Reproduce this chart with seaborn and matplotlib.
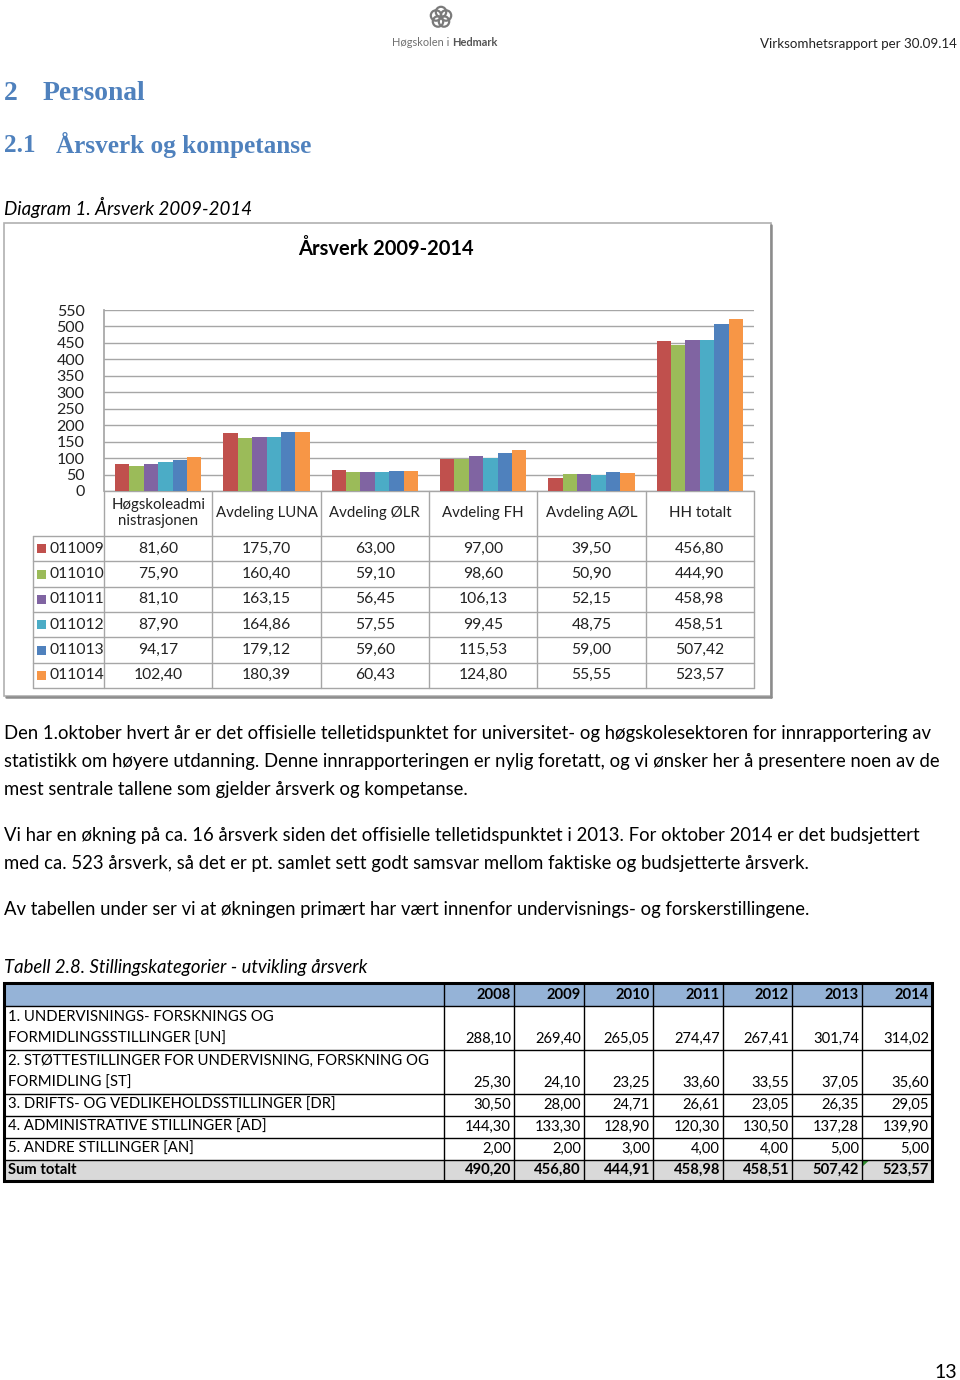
import matplotlib
matplotlib.use("Agg")
import matplotlib.pyplot as plt
import seaborn as sns
import pandas as pd
from matplotlib.patches import Rectangle, Circle, Polygon

# ---------------- data ----------------
categories = ["Høgskoleadmi\nnistrasjonen", "Avdeling LUNA", "Avdeling ØLR",
              "Avdeling FH", "Avdeling AØL", "HH totalt"]
series_names = ["011009", "011010", "011011", "011012", "011013", "011014"]
v_011009 = [81.60, 175.70, 63.00, 97.00, 39.50, 456.80]
v_011010 = [75.90, 160.40, 59.10, 98.60, 50.90, 444.90]
v_011011 = [81.10, 163.15, 56.45, 106.13, 52.15, 458.98]
v_011012 = [87.90, 164.86, 57.55, 99.45, 48.75, 458.51]
v_011013 = [94.17, 179.12, 59.60, 115.53, 59.00, 507.42]
v_011014 = [102.40, 180.39, 60.43, 124.80, 55.55, 523.57]
series_values = [v_011009, v_011010, v_011011, v_011012, v_011013, v_011014]
series_colors = ["#C0504D", "#9BBB59", "#8064A2", "#4BACC6", "#4F81BD", "#F79646"]
y_ticks = list(range(0, 551, 50))

table_years = ["2008", "2009", "2010", "2011", "2012", "2013", "2014"]
table_rows = ["1. UNDERVISNINGS- FORSKNINGS OG\nFORMIDLINGSSTILLINGER [UN]",
              "2. STØTTESTILLINGER FOR UNDERVISNING, FORSKNING OG\nFORMIDLING [ST]",
              "3. DRIFTS- OG VEDLIKEHOLDSSTILLINGER [DR]",
              "4. ADMINISTRATIVE STILLINGER [AD]",
              "5. ANDRE STILLINGER [AN]"]
row_un = [288.10, 269.40, 265.05, 274.47, 267.41, 301.74, 314.02]
row_st = [25.30, 24.10, 23.25, 33.60, 33.55, 37.05, 35.60]
row_dr = [30.50, 28.00, 24.71, 26.61, 23.05, 26.35, 29.05]
row_ad = [144.30, 133.30, 128.90, 120.30, 130.50, 137.28, 139.90]
row_an = [2.00, 2.00, 3.00, 4.00, 4.00, 5.00, 5.00]
sum_label = "Sum totalt"
sum_totalt = [490.20, 456.80, 444.91, 458.98, 458.51, 507.42, 523.57]

para1 = ["Den 1.oktober hvert år er det offisielle telletidspunktet for universitet- og høgskolesektoren for innrapportering av",
         "statistikk om høyere utdanning. Denne innrapporteringen er nylig foretatt, og vi ønsker her å presentere noen av de",
         "mest sentrale tallene som gjelder årsverk og kompetanse."]
para2 = ["Vi har en økning på ca. 16 årsverk siden det offisielle telletidspunktet i 2013. For oktober 2014 er det budsjettert",
         "med ca. 523 årsverk, så det er pt. samlet sett godt samsvar mellom faktiske og budsjetterte årsverk."]
para3 = ["Av tabellen under ser vi at økningen primært har vært innenfor undervisnings- og forskerstillingene."]


def fmt(v):
    return f"{v:.2f}".replace(".", ",")


# ---------------- figure ----------------
sns.set_theme(style="white")
plt.rcParams["font.family"] = ["Lato", "DejaVu Sans"]

W, H = 960, 1380
fig = plt.figure(figsize=(9.6, 13.8), dpi=100)
page = fig.add_axes([0, 0, 1, 1])
page.set_xlim(0, W)
page.set_ylim(H, 0)
page.axis("off")
renderer = fig.canvas.get_renderer()


def measure(s, **kw):
    t = page.text(0, 0, s, fontsize=10, **kw)
    w = t.get_window_extent(renderer).width
    t.remove()
    return w


def size_for(s, width, **kw):
    return 10 * width / measure(s, **kw)


def fit(x, y, s, x_right, ha="left", **kw):
    fs = size_for(s, x_right - x, **kw)
    page.text(x if ha == "left" else x_right, y, s, fontsize=fs, ha=ha, **kw)
    return fs


# header
fit(760, 44, "Virksomhetsrapport per 30.09.14", 957, va="center", color="#222222")
for dx, dy in [(0, -5), (5, -1.5), (3, 4.5), (-3, 4.5), (-5, -1.5)]:
    page.add_patch(Circle((441 + dx, 17 + dy), 5.2, fill=False, ec="#7a7a7a", lw=1.6))
ls = size_for("Høgskolen i Hedmark", 104)
w1 = measure("Høgskolen i ", fontsize=None) if False else None
t1 = page.text(392, 43, "Høgskolen i ", fontsize=ls, ha="left", va="center", color="#707070")
x2 = 392 + t1.get_window_extent(renderer).width
page.text(x2, 43, "Hedmark", fontsize=ls, ha="left", va="center", color="#555555",
          fontweight="bold")

# headings
hcol = "#4F81BD"
serif = ["Liberation Serif", "DejaVu Serif"]
hs = fit(43, 93, "Personal", 146, va="center", color=hcol, fontweight="bold", family=serif)
page.text(4, 93, "2", fontsize=hs, va="center", color=hcol, fontweight="bold", family=serif)
hs2 = fit(56, 145, "Årsverk og kompetanse", 313, va="center", color=hcol,
          fontweight="bold", family=serif)
page.text(4, 145, "2.1", fontsize=hs2, va="center", color=hcol, fontweight="bold", family=serif)
fit(4, 207, "Diagram 1. Årsverk 2009-2014", 251, va="center", style="italic", color="black")

# chart frame
page.add_patch(Rectangle((4, 223), 767, 473, fill=True, fc="white", ec="#b0b0b0", lw=1.2, zorder=0))
page.plot([771, 771], [225, 697], color="#8c8c8c", lw=1.8)
page.plot([6, 771], [696.5, 696.5], color="#8c8c8c", lw=1.8)
fit(298, 249, "Årsverk 2009-2014", 475, va="center", fontweight="bold", color="black")

# bar axes
ax_l, ax_r, ax_t, ax_b = 104, 754, 310, 491
ax = fig.add_axes([ax_l / W, 1 - ax_b / H, (ax_r - ax_l) / W, (ax_b - ax_t) / H])
ax.set_facecolor("none")
df = pd.DataFrame({
    "Kategori": [c for _ in series_names for c in categories],
    "Serie": [s for s in series_names for _ in categories],
    "Årsverk": [v for vals in series_values for v in vals],
})
sns.barplot(data=df, x="Kategori", y="Årsverk", hue="Serie", order=categories,
            hue_order=series_names, palette=series_colors, width=0.8, saturation=1,
            errorbar=None, legend=False, linewidth=0, ax=ax)
ax.set_xlim(-0.5, len(categories) - 0.5)
ax.set_ylim(0, 550)
ax.set_yticks(y_ticks)
ax.set_xticks([])
ax.set_xlabel("")
ax.set_ylabel("")
ax.grid(axis="y", color="#a6a6a6", lw=1)
ax.set_axisbelow(True)
for s in ["top", "right", "bottom"]:
    ax.spines[s].set_visible(False)
ax.spines["left"].set_color("#a6a6a6")
tick_fs = size_for("550", 28)
ax.tick_params(axis="y", length=0, pad=14, labelsize=tick_fs, labelcolor="#222222")

# chart data table
colw = (ax_r - ax_l) / len(categories)
col_edges = [ax_l + i * colw for i in range(len(categories) + 1)]
row_edges = [536 + i * (688 - 536) / 6 for i in range(7)]
lc = "#a6a6a6"
for x in col_edges:
    page.plot([x, x], [ax_b, 688], color=lc, lw=1)
page.plot([33, 33], [536, 688], color=lc, lw=1)
page.plot([ax_l, ax_r], [ax_b, ax_b], color=lc, lw=1)
for y in row_edges:
    page.plot([33, ax_r], [y, y], color=lc, lw=1)

cs = size_for("Avdeling LUNA", 101)
for i, c in enumerate(categories):
    page.text((col_edges[i] + col_edges[i + 1]) / 2, 513, c, fontsize=cs, ha="center",
              va="center", color="#222222", linespacing=1.15)
vs = size_for("175,70", 49)
for j, (name, vals, col) in enumerate(zip(series_names, series_values, series_colors)):
    yc = (row_edges[j] + row_edges[j + 1]) / 2
    page.add_patch(Rectangle((37, yc - 4.5), 9, 9, fc=col, ec="none"))
    page.text(50, yc, name, fontsize=vs, ha="left", va="center", color="#222222")
    for i, v in enumerate(vals):
        page.text((col_edges[i] + col_edges[i + 1]) / 2, yc, fmt(v), fontsize=vs,
                  ha="center", va="center", color="#222222")

# body text
bs = fit(4, 733, para1[0], 937, va="center", color="black")
for k, line in enumerate(para1[1:]):
    page.text(4, 761 + 28 * k, line, fontsize=bs, va="center", color="black")
for k, line in enumerate(para2):
    page.text(4, 836 + 28 * k, line, fontsize=bs, va="center", color="black")
for k, line in enumerate(para3):
    page.text(4, 910 + 28 * k, line, fontsize=bs, va="center", color="black")
page.text(4, 967, "Tabell 2.8. Stillingskategorier - utvikling årsverk", fontsize=bs,
          va="center", style="italic", color="black")

# lower table
tx = [4, 444, 514, 584, 653, 723, 792, 862, 932]
ty = [983, 1006, 1050, 1094, 1116, 1138, 1160, 1181]
page.add_patch(Rectangle((tx[0], ty[0]), tx[-1] - tx[0], ty[1] - ty[0], fc="#95B3D7", ec="none"))
page.add_patch(Rectangle((tx[0], ty[6]), tx[-1] - tx[0], ty[7] - ty[6], fc="#D9D9D9", ec="none"))
for x in tx[1:-1]:
    page.plot([x, x], [ty[0], ty[-1]], color="black", lw=1)
for y in ty[1:-1]:
    page.plot([tx[0], tx[-1]], [y, y], color="black", lw=1)
page.add_patch(Rectangle((tx[0], ty[0]), tx[-1] - tx[0], ty[-1] - ty[0], fill=False,
                         ec="black", lw=2.2))
ts = fit(8, 1105, "3. DRIFTS- OG VEDLIKEHOLDSSTILLINGER [DR]", 331, va="center", color="black")
ns = size_for("288,10", 46)
for i, yr in enumerate(table_years):
    page.text(tx[i + 2] - 3, 995, yr, fontsize=ns, ha="right", va="center",
              fontweight="bold", color="black")
line_y = {0: [1017, 1039], 1: [1061, 1083], 3: [1127], 4: [1149]}
rows_vals = [row_un, row_st, row_dr, row_ad, row_an]
for r, (lab, vals) in enumerate(zip(table_rows, rows_vals)):
    ys = line_y.get(r, [1105])
    if r != 2:
        for k, part in enumerate(lab.split("\n")):
            page.text(8, ys[k], part, fontsize=ts, ha="left", va="center", color="black")
    for i, v in enumerate(vals):
        page.text(tx[i + 2] - 3, ys[-1], fmt(v), fontsize=ns, ha="right", va="center",
                  color="black")
page.text(8, 1170, sum_label, fontsize=ns, ha="left", va="center", fontweight="bold", color="black")
for i, v in enumerate(sum_totalt):
    page.text(tx[i + 2] - 3, 1170, fmt(v), fontsize=ns, ha="right", va="center",
              fontweight="bold", color="black")
page.add_patch(Polygon([(862, 1160.5), (869, 1160.5), (862, 1167)], fc="#2E8B2E", ec="none"))

# page number
page.text(957, 1372, "13", fontsize=bs * 1.05, ha="right", va="center", color="black")

fig.savefig("out.png", dpi=100)
